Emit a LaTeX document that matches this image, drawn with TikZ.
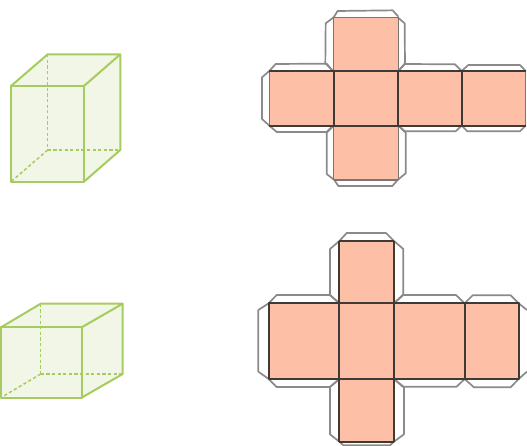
\documentclass[tikz,border=0pt]{standalone}
\tikzset{
  cubefill/.style={fill=cubeF,draw=none},
  solidedge/.style={draw=cubeG,line width=2pt,line join=round},
  hiddenedge/.style={draw=cubeG,line width=1.5pt,dash pattern=on 3.2pt off 2.4pt},
  face/.style={fill=netF,draw=none},
  tab/.style={draw=tabG,line width=1.7pt,line join=round},
  fold/.style={draw=foldK,line width=2pt,line join=round},
  foldthin/.style={draw=foldK!70,line width=1.6pt,line join=round}
}
\definecolor{cubeF}{HTML}{F1F6E6}
\definecolor{cubeG}{HTML}{A6CB5F}
\definecolor{netF}{HTML}{FDC0A6}
\definecolor{tabG}{HTML}{8A8A8A}
\definecolor{foldK}{HTML}{3F3A38}
\begin{document}
\begin{tikzpicture}[x=1pt,y=-1pt]
\useasboundingbox (0,0) rectangle (527,446);
% cube 1
\fill[cubefill] (11,86) -- (47.7,54.3) -- (120.3,54.3) -- (120.3,150) -- (84,181.7) -- (11,181.7) -- cycle;
\draw[hiddenedge] (47.7,54.3) -- (47.7,150);
\draw[hiddenedge] (47.7,150) -- (120.3,150);
\draw[hiddenedge] (47.7,150) -- (11,181.7);
\draw[solidedge] (11,86) rectangle (84,181.7);
\draw[solidedge] (11,86) -- (47.7,54.3) -- (120.3,54.3) -- (84,86);
\draw[solidedge] (120.3,54.3) -- (120.3,150) -- (84,181.7);
% cube 2
\fill[cubefill] (1,327.3) -- (40.7,303.7) -- (122.7,303.7) -- (122.7,374) -- (81.7,397.6) -- (1,397.6) -- cycle;
\draw[hiddenedge] (40.7,303.7) -- (40.7,374);
\draw[hiddenedge] (40.7,374) -- (122.7,374);
\draw[hiddenedge] (40.7,374) -- (1,397.6);
\draw[solidedge] (1,327.3) rectangle (81.7,397.6);
\draw[solidedge] (1,327.3) -- (40.7,303.7) -- (122.7,303.7) -- (81.7,327.3);
\draw[solidedge] (122.7,303.7) -- (122.7,374) -- (81.7,397.6);
% net 1
\begin{scope}[shift={(255,0)},x=0.3333pt,y=-0.3333pt]
\fill[face] (236,52) rectangle (430,540);
\fill[face] (43,213) rectangle (812,377);
\draw[tab] (236,52) -- (248,33) -- (413,31) -- (430,50);
\draw[tab] (236,52) -- (212,70) -- (211,190) -- (234,213);
\draw[tab] (428,52) -- (449,70) -- (450,190) -- (430,213);
\draw[tab] (43,213) -- (62,192) -- (215,191) -- (234,213);
\draw[tab] (43,213) -- (21,232) -- (21,357) -- (43,377);
\draw[tab] (43,377) -- (65,396) -- (215,396) -- (234,377);
\draw[tab] (236,377) -- (215,398) -- (215,522) -- (238,540);
\draw[tab] (430,377) -- (452,398) -- (452,520) -- (428,540);
\draw[tab] (238,540) -- (250,558) -- (412,558) -- (428,540);
\draw[tab] (430,213) -- (450,192) -- (600,193) -- (620,213);
\draw[tab] (430,377) -- (450,394) -- (602,394) -- (620,377);
\draw[tab] (620,213) -- (640,195) -- (795,195) -- (812,213);
\draw[tab] (620,377) -- (637,394) -- (795,394) -- (812,377);
\draw[foldthin] (236,52) -- (430,52) (236,540) -- (430,540) (43,213) -- (43,377) (812,213) -- (812,377);
\draw[foldthin] (236,52) -- (236,213) (430,52) -- (430,213) (236,377) -- (236,540) (430,377) -- (430,540);
\draw[fold] (43,213) -- (812,213) (43,377) -- (812,377);
\draw[fold] (236,213) -- (236,377) (430,213) -- (430,377) (620,213) -- (620,377);
\end{scope}
% net 2
\begin{scope}[shift={(250,225)},x=0.3333pt,y=-0.3333pt]
\fill[face] (268,48) rectangle (432,650);
\fill[face] (56,235) rectangle (806,462);
\draw[tab] (268,48) -- (290,24) -- (408,24) -- (432,48);
\draw[tab] (268,48) -- (240,72) -- (240,210) -- (268,235);
\draw[tab] (432,48) -- (460,72) -- (460,210) -- (432,235);
\draw[tab] (56,235) -- (80,210) -- (240,210) -- (268,235);
\draw[tab] (56,235) -- (25,255) -- (25,440) -- (56,462);
\draw[tab] (56,462) -- (80,486) -- (240,486) -- (268,462);
\draw[tab] (268,462) -- (240,486) -- (240,628) -- (268,650);
\draw[tab] (432,462) -- (462,486) -- (462,628) -- (432,650);
\draw[tab] (268,650) -- (280,661) -- (420,661) -- (432,650);
\draw[tab] (432,235) -- (458,210) -- (618,210) -- (644,235);
\draw[tab] (432,462) -- (458,485) -- (620,485) -- (644,462);
\draw[tab] (644,235) -- (668,211) -- (782,211) -- (806,235);
\draw[tab] (644,462) -- (672,487) -- (782,487) -- (806,462);
\draw[tab] (806,235) -- (831,255) (806,462) -- (831,440);
\draw[fold] (268,48) -- (432,48) (268,650) -- (432,650);
\draw[fold] (268,48) -- (268,650) (432,48) -- (432,650);
\draw[fold] (56,235) rectangle (806,462);
\draw[fold] (644,235) -- (644,462);
\end{scope}
\end{tikzpicture}
\end{document}
